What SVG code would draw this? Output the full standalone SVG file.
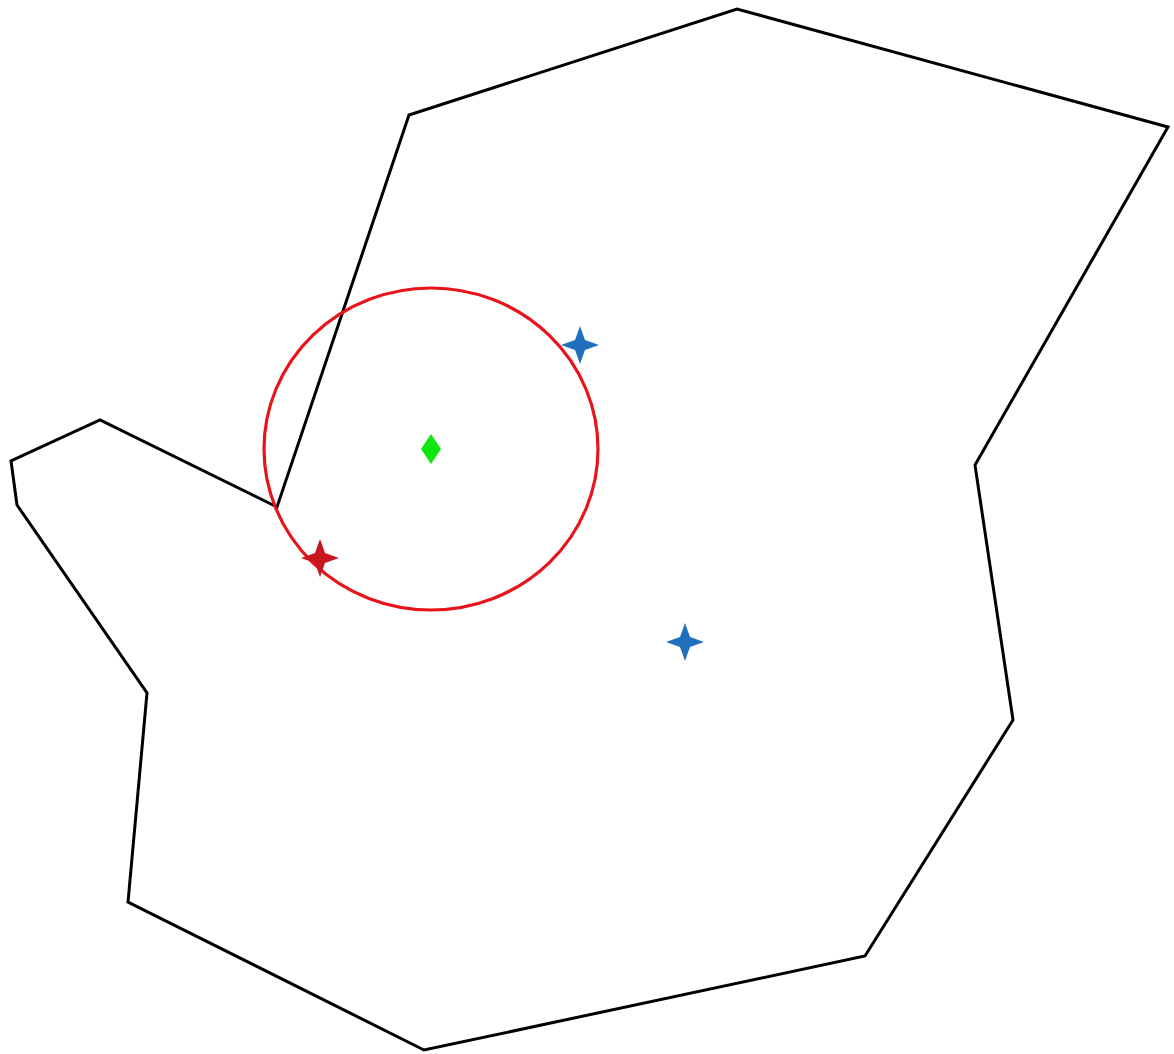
<svg xmlns="http://www.w3.org/2000/svg" width="1174" height="1054" viewBox="0 0 1174 1054">
<defs>
<style>
.poly{fill:none;stroke:#000;stroke-width:3;stroke-linejoin:miter}
.circ{fill:none;stroke:#e8141c;stroke-width:3.2}
.blue{fill:#1f6fbd}
.red{fill:#c8161d}
.green{fill:#11e611}
</style>
<path id="star" d="M0,-19 L5,-5 L19,0 L5,5 L0,19 L-5,5 L-19,0 L-5,-5 Z"/>
</defs>
<rect width="1174" height="1054" fill="#fff"/>
<g id="boundary">
<polygon class="poly" points="409,115 737,9 1168,127 975,465 1013,720 865,956 424,1050 128,902 147,693 17,505 11,461 100,420 277,507"/>
</g>
<g id="circle">
<ellipse class="circ" cx="431" cy="449" rx="167" ry="161"/>
</g>
<g id="center">
<path class="green" d="M431,434 L441,449 L431,464 L421,449 Z"/>
</g>
<g id="star1"><use href="#star" class="blue" x="580" y="345"/></g>
<g id="star2"><use href="#star" class="blue" x="685" y="642"/></g>
<g id="star3"><use href="#star" class="red" x="320" y="558"/></g>
</svg>
